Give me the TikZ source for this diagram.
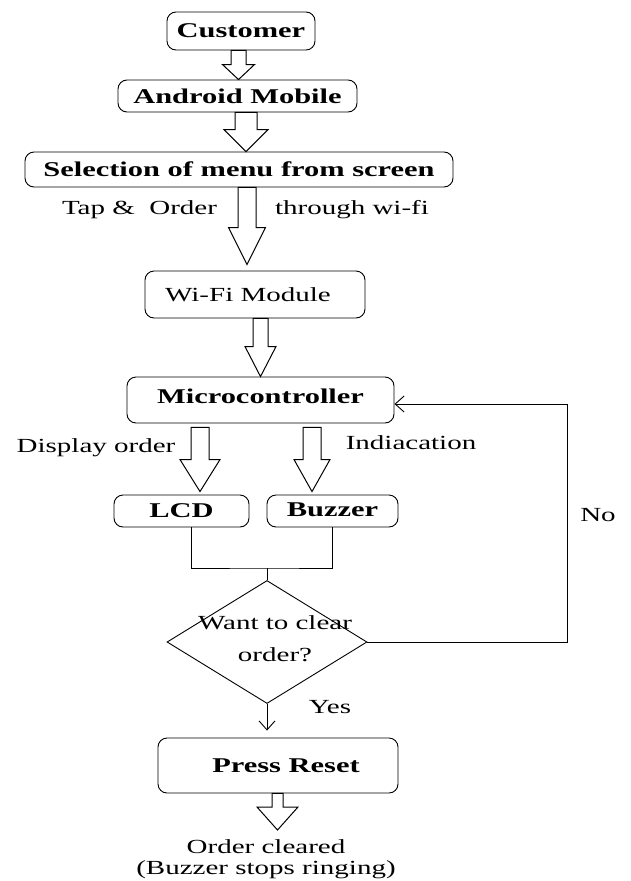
\documentclass[tikz,border=0pt]{standalone}
\usepackage{fontspec}
\setmainfont{Liberation Serif}[FakeStretch=1.45]
\usetikzlibrary{calc,arrows.meta,shapes.geometric}
\tikzset{
  box/.style={draw, rounded corners=9pt, line width=0.9pt, inner sep=0pt, font=\fontsize{21}{24}\selectfont\bfseries},
  rbox/.style={box, font=\fontsize{20}{24}\selectfont},
  lbl/.style={inner sep=0pt, font=\fontsize{20}{24}\selectfont},
  blk/.style={draw, line width=1pt, fill=white, line join=miter},
  ln/.style={draw, line width=0.9pt},
  arr/.style={ln, -{Straight Barb[length=9pt,width=16pt,line width=0.9pt]}},
}
\newcommand\barrow[6]{%
  \draw[blk] let \p1=(#1), \p2=(#2) in
    ({#3pt-#4pt},\y1) -- ({#3pt-#4pt},{\y2+#6pt}) -- ({#3pt-#5pt},{\y2+#6pt})
    -- (#3pt,\y2) -- ({#3pt+#5pt},{\y2+#6pt}) -- ({#3pt+#4pt},{\y2+#6pt})
    -- ({#3pt+#4pt},\y1) -- cycle;}
\begin{document}
\begin{tikzpicture}[x=1pt,y=-1pt]
\useasboundingbox (0,0) rectangle (630,881);
% boxes
\node[box, minimum width=148pt, minimum height=38pt] (cust) at (241,31) {Customer};
\node[box, minimum width=239pt, minimum height=32pt] (andr) at (237.5,96) {Android Mobile};
\node[box, minimum width=428pt, minimum height=35pt] (sel) at (239,169.5) {Selection of menu from screen};
\node[rbox, minimum width=220pt, minimum height=47pt] (wifi) at (255,294.5) {\hspace*{-14pt}Wi-Fi Module};
\node[box, minimum width=267pt, minimum height=46pt] (mc) at (260.5,400) {\raisebox{7pt}{Microcontroller}};
\node[box, minimum width=135pt, minimum height=32pt] (lcd) at (181.5,511) {LCD};
\node[box, minimum width=131pt, minimum height=32pt] (buz) at (332.5,511) {\raisebox{3pt}{Buzzer}};
\node[draw, diamond, line width=0.9pt, minimum width=200pt, minimum height=123pt, inner sep=0pt] (dec) at (267,642) {};
\node[lbl, align=center] (dect) at (275,639) {Want to clear\\[8pt]order?};
\node[box, minimum width=240pt, minimum height=55pt] (rst) at (278,765.5) {\hspace*{16pt}\raisebox{-4pt}{Press Reset}};
\node[lbl, align=center] (endt) at (266,859) {Order cleared\\[-3pt](Buzzer stops ringing)};
\coordinate (endtip) at (277.5,830);
% labels
\node[lbl] (tap) at (139.5,210) {Tap \&\ \ Order};
\node[lbl] (thr) at (352,210) {through wi-fi};
\node[lbl] (disp) at (96,448) {Display order};
\node[lbl] (ind) at (411,443) {Indiacation};
\node[lbl] (no) at (598,515) {No};
\node[lbl] (yes) at (330,707) {Yes};
% block arrows
\barrow{cust.south}{andr.north}{238.5}{7.5}{16}{15}
\barrow{andr.south}{sel.north}{246}{11}{22}{22}
\barrow{sel.south}{$(wifi.north)+(0,-6)$}{247}{9}{18.5}{37}
\barrow{wifi.south}{mc.north}{260.5}{7.5}{15.5}{30}
\barrow{$(mc.south)+(0,4)$}{$(lcd.north)+(0,-3)$}{200}{9}{20}{32}
\barrow{$(mc.south)+(0,4)$}{$(buz.north)+(0,-3)$}{312}{9}{18}{32}
\barrow{rst.south}{endtip}{277.5}{5.5}{20.5}{23}
% connectors
\coordinate (jn) at (267,568);
\draw[ln] ([xshift=9.5pt]lcd.south) |- (jn) -| (buz.south);
\draw[ln] (jn) -- (dec.north);
\draw[arr] (dec.east) -- ++(200,0) |- ([yshift=-4pt]mc.east);
\draw[arr] (dec.south) -- ($(dec.south |- rst.north)+(0,-7)$);
\end{tikzpicture}
\end{document}
